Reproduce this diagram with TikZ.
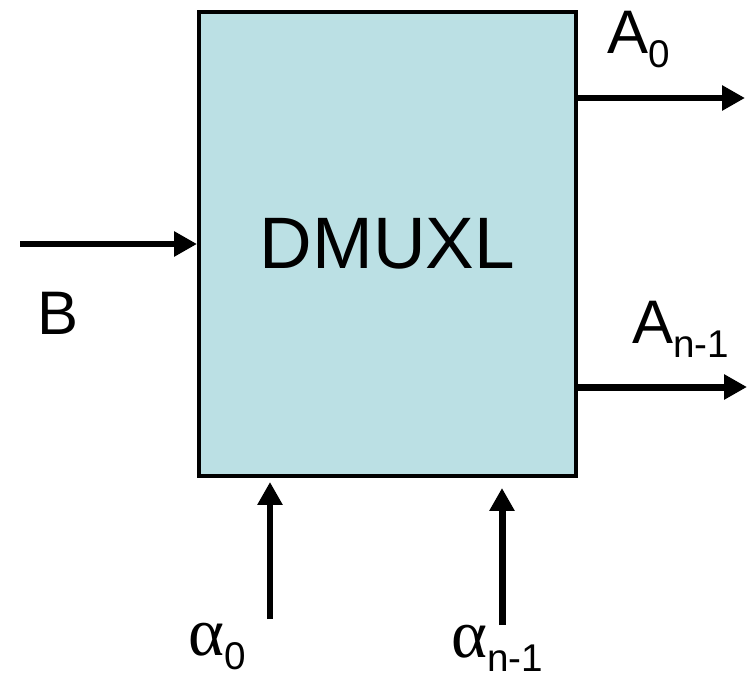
\documentclass[tikz,border=0pt]{standalone}
\usepackage{fontspec}
\setmainfont{Liberation Sans}
\newfontfamily\greekfont{Liberation Serif}
\usetikzlibrary{arrows.meta,positioning,calc}
\definecolor{boxblue}{RGB}{187,224,228}

\newcommand{\lbl}[2]{{\fontsize{35}{40}\selectfont #1}{\fontsize{22}{24}\selectfont\raisebox{-0.3cm}{#2}}}
\newcommand{\alp}{{\greekfont\fontsize{39}{44}\selectfont α}}

\begin{document}
\begin{tikzpicture}[x=0.02cm, y=-0.02cm,
    blockbox/.style={draw, fill=boxblue, line width=0.08cm, inner sep=0pt,
        minimum width=7.54cm, minimum height=9.28cm,
        font=\fontsize{41.5}{48}\selectfont},
    sig/.style={line width=0.14cm, -{Triangle[length=0.46cm, width=0.48cm]}},
    pin/.style={inner sep=0pt, anchor=base west}]
    \useasboundingbox (0,0) rectangle (752,676);

    % Demultiplexer block
    \node[blockbox] (dmux) at (387.5,244) {DMUXL};

    % Free ends of the signals
    \coordinate (bin) at (20,244);
    \coordinate (a0out) at (745,98);
    \coordinate (anout) at (747,387);
    \coordinate (al0in) at (270,619);
    \coordinate (al0tip) at (270,482);
    \coordinate (alnin) at (502,625);
    \coordinate (alntip) at (502,488);

    % Data input
    \draw[sig] (bin) -- (dmux.west);
    \node[pin] (blab) at (37.5,335) {\fontsize{35}{40}\selectfont B};

    % Outputs
    \draw[sig] (dmux.east |- a0out) -- (a0out);
    \draw[sig] (dmux.east |- anout) -- (anout);
    \node[pin] (a0lab) at (607,53) {\lbl{A}{0}};
    \node[pin] (anlab) at (632,343) {\lbl{A}{n-1}};

    % Select inputs
    \draw[sig] (al0in) -- (al0tip);
    \draw[sig] (alnin) -- (alntip);
    \node[pin] (al0lab) at (188,655) {\lbl{\alp}{0}};
    \node[pin] (alnlab) at (451,657) {\lbl{\alp}{n-1}};
\end{tikzpicture}
\end{document}
